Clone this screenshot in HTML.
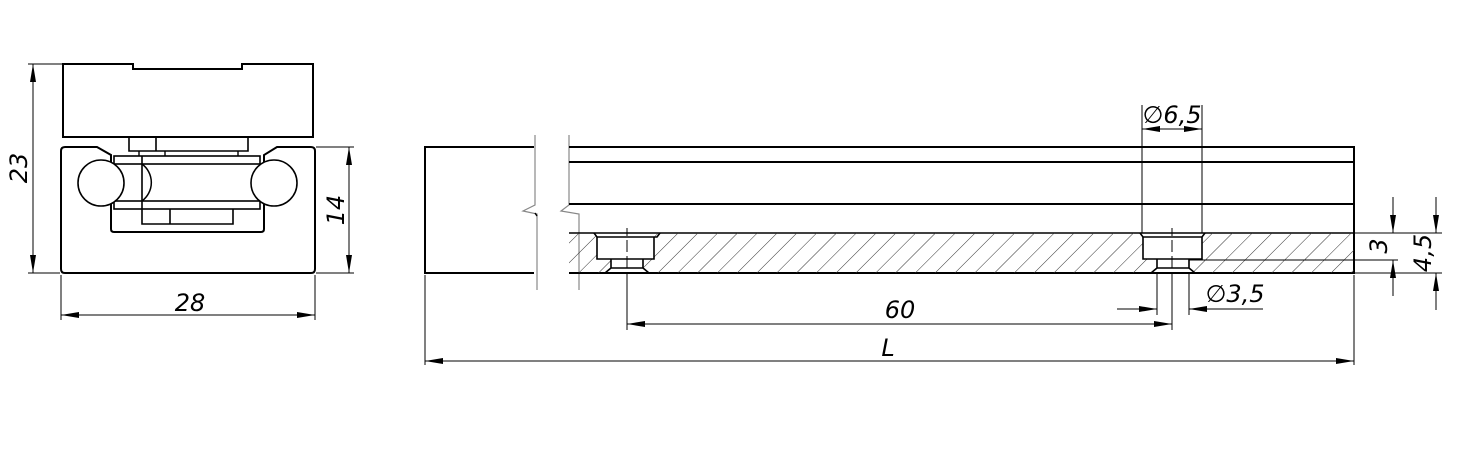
<!DOCTYPE html>
<html><head><meta charset="utf-8"><style>
html,body{margin:0;padding:0;background:#fff;}
svg{display:block;}
text{font-family:"DejaVu Sans","Liberation Sans",sans-serif;font-style:italic;fill:#000;}
</style></head><body>
<svg width="1484" height="469" viewBox="0 0 1484 469" xmlns="http://www.w3.org/2000/svg">
<defs>
<marker id="a" viewBox="0 0 18 6" refX="18" refY="3" markerWidth="18" markerHeight="6" markerUnits="userSpaceOnUse" orient="auto-start-reverse"><path d="M0,0 L18,3 L0,6 z" fill="#000"/></marker>
<pattern id="h" width="14" height="14" patternUnits="userSpaceOnUse" patternTransform="rotate(45)"><line x1="0" y1="0" x2="0" y2="14" stroke="#333" stroke-width="1"/></pattern>
</defs>
<g fill="none" stroke="#000">
<!-- LEFT VIEW -->
<path d="M63,64 H133 V69 H242 V64 H313 V137 H63 Z" stroke-width="2"/>
<path d="M129,137 V151 H248 V137 M156,137 V151" stroke-width="1.6"/>
<path d="M139,151 V156 M165,151 V156 M238,151 V156" stroke-width="1.4"/>
<path d="M97,147 H65 Q61,147 61,151 V269 Q61,273 65,273 H311 Q315,273 315,269 V151 Q315,147 311,147 H277 L264,155 V229 Q264,232 261,232 H114 Q111,232 111,229 V155 Z" stroke-width="2"/>
<rect x="114" y="156" width="146" height="8" stroke-width="1.6"/>
<rect x="114" y="201" width="146" height="8" stroke-width="1.6"/>
<path d="M142,156 V224 H233 V209 M170,209 V224" stroke-width="1.6"/>
<path d="M142,164 A23,23 0 0 1 142,201" stroke-width="1.5"/>
<circle cx="101" cy="183" r="23" fill="#fff" stroke-width="1.6"/>
<circle cx="274" cy="183" r="23" fill="#fff" stroke-width="1.6"/>
<!-- dims left -->
<g stroke-width="1">
<line x1="28" y1="64" x2="62" y2="64"/>
<line x1="28" y1="273" x2="60" y2="273"/>
<line x1="33" y1="64" x2="33" y2="273" marker-start="url(#a)" marker-end="url(#a)"/>
<line x1="316" y1="147" x2="354" y2="147"/>
<line x1="316" y1="273" x2="354" y2="273"/>
<line x1="349" y1="147" x2="349" y2="273" marker-start="url(#a)" marker-end="url(#a)"/>
<line x1="61" y1="275" x2="61" y2="320"/>
<line x1="315" y1="275" x2="315" y2="320"/>
<line x1="61" y1="315" x2="315" y2="315" marker-start="url(#a)" marker-end="url(#a)"/>
</g>
<!-- RIGHT VIEW -->
<path d="M534,147 H425 V273 H534" stroke-width="2"/>
<path d="M535,135 V205 L523,211 L537,214 V290" stroke="#888" stroke-width="1.2"/>
<path d="M569,135 V205 L561,211 L579,214 V290" stroke="#888" stroke-width="1.2"/>
<path d="M535,213 L537,216" stroke-width="1.4"/>
<path d="M569,147 H1354 V273 H569 M569,162 H1354 M569,204 H1354" stroke-width="2"/>
<path d="M569,233 H1354" stroke-width="1.6"/>
<!-- hatch -->
<path d="M569,233 H594 L597,237 V259 H611 V268 L605,273 H569 Z M654,233 H1140 L1143,237 V259 H1157 V268 L1151,273 H649 L643,268 V259 H654 V237 L657,233 Z M1205,233 H1354 V273 H1195 L1189,268 V259 H1202 V237 Z" fill="url(#h)" stroke="none"/>
<g stroke-width="1.6">
<path d="M594,233 L597,237 H657 L660,233"/>
<path d="M597,237 V259 H654 V237 M611,259 V268 H643 V259 M605,273 L611,268 M649,273 L643,268"/>
<path d="M1140,233 L1143,237 H1202 L1205,233"/>
<path d="M1143,237 V259 H1202 V237 M1157,259 V268 H1189 V259 M1151,273 L1157,268 M1195,273 L1189,268"/>
</g>
<g stroke-width="1">
<path d="M627,228 V236 M627,240 V252 M627,256 V268 M627,272 V330" />
<path d="M1172,228 V236 M1172,240 V252 M1172,256 V268 M1172,272 V330" />
<line x1="1142" y1="105" x2="1142" y2="233"/>
<line x1="1202" y1="105" x2="1202" y2="233"/>
<line x1="1142" y1="129" x2="1202" y2="129" marker-start="url(#a)" marker-end="url(#a)"/>
<line x1="1157" y1="273" x2="1157" y2="315"/>
<line x1="1189" y1="273" x2="1189" y2="315"/>
<line x1="1117" y1="309" x2="1157" y2="309" marker-end="url(#a)"/>
<line x1="1263" y1="309" x2="1189" y2="309" marker-end="url(#a)"/>
<line x1="627" y1="324" x2="1172" y2="324" marker-start="url(#a)" marker-end="url(#a)"/>
<line x1="425" y1="275" x2="425" y2="365"/>
<line x1="1354" y1="275" x2="1354" y2="365"/>
<line x1="425" y1="361" x2="1354" y2="361" marker-start="url(#a)" marker-end="url(#a)"/>
<line x1="1354" y1="233" x2="1442" y2="233"/>
<line x1="1189" y1="260" x2="1398" y2="260"/>
<line x1="1354" y1="273" x2="1442" y2="273"/>
<line x1="1393" y1="197" x2="1393" y2="233" marker-end="url(#a)"/>
<line x1="1393" y1="296" x2="1393" y2="260" marker-end="url(#a)"/>
<line x1="1436" y1="197" x2="1436" y2="233" marker-end="url(#a)"/>
<line x1="1436" y1="310" x2="1436" y2="273" marker-end="url(#a)"/>
</g>
</g>
<text x="0" y="0" font-size="24" text-anchor="middle" transform="translate(27,168) rotate(-90)">23</text>
<text x="0" y="0" font-size="24" text-anchor="middle" transform="translate(344,210) rotate(-90)">14</text>
<text x="190" y="311" font-size="24" text-anchor="middle">28</text>
<text x="1172" y="123" font-size="24" text-anchor="middle">∅6,5</text>
<text x="1235" y="302" font-size="24" text-anchor="middle">∅3,5</text>
<text x="900" y="318" font-size="24" text-anchor="middle">60</text>
<text x="888" y="356" font-size="24" text-anchor="middle">L</text>
<text x="0" y="0" font-size="24" text-anchor="middle" transform="translate(1387,246) rotate(-90)">3</text>
<text x="0" y="0" font-size="24" text-anchor="middle" transform="translate(1431,253) rotate(-90)">4,5</text>
</svg>
</body></html>
